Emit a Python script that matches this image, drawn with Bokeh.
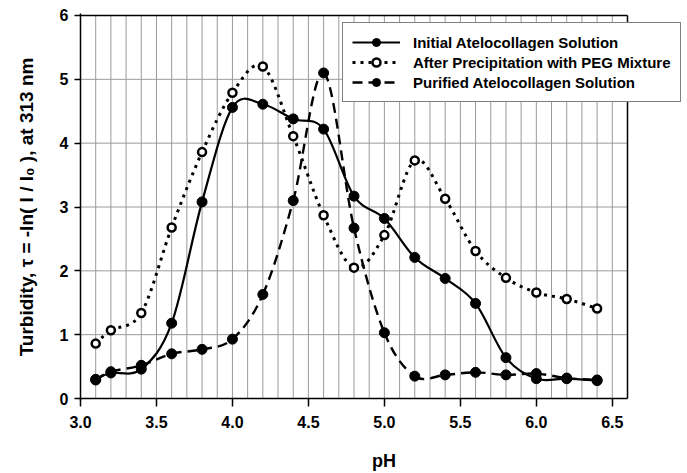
import numpy as np
from bokeh.plotting import figure
from bokeh.models import Legend, LegendItem, FixedTicker, ColumnDataSource
from bokeh.embed import file_html
from bokeh.resources import INLINE

# ---- data ----
ph = [3.1, 3.2, 3.4, 3.6, 3.8, 4.0, 4.2, 4.4, 4.6, 4.8, 5.0, 5.2, 5.4, 5.6, 5.8, 6.0, 6.2, 6.4]
initial = [0.30, 0.40, 0.46, 1.18, 3.08, 4.56, 4.61, 4.38, 4.22, 3.17, 2.82, 2.21, 1.88, 1.49, 0.64, 0.31, 0.31, 0.28]
peg = [0.86, 1.07, 1.34, 2.68, 3.86, 4.79, 5.20, 4.11, 2.87, 2.05, 2.56, 3.73, 3.13, 2.31, 1.89, 1.66, 1.56, 1.41]
purified = [0.29, 0.42, 0.52, 0.70, 0.77, 0.93, 1.63, 3.10, 5.10, 2.67, 1.03, 0.35, 0.37, 0.41, 0.37, 0.39, 0.32, 0.29]
series_names = ["Initial Atelocollagen Solution",
                "After Precipitation with PEG Mixture",
                "Purified Atelocollagen Solution"]
x_ticks = [3.0, 3.5, 4.0, 4.5, 5.0, 5.5, 6.0, 6.5]
y_ticks = [0, 1, 2, 3, 4, 5, 6]
X_MIN, X_MAX = 3.0, 6.6
Y_MIN, Y_MAX = 0.0, 6.0
X_GRID_STEP = 0.1

FONT = "Liberation Sans"

# ---- layout (pixels) ----
W, H = 687, 473
LEFT, TOP = 80, 13
PLOT_W = 547           # width of the x = 3.0 .. 6.6 area
PLOT_H = 384           # height of the y = 0 .. 6 area
PAD = 2                # extra pixels above/below so border lines are not clipped
FRAME_W = W - LEFT
FRAME_H = PLOT_H + 2 * PAD
px_x = PLOT_W / (X_MAX - X_MIN)
px_y = PLOT_H / (Y_MAX - Y_MIN)


def smooth_segments(xs, ys):
    """Bezier control points for a smoothed (Catmull-Rom style) line through the data."""
    P = np.column_stack([xs, ys]).astype(float)
    n = len(P)
    d = dict(x0=[], y0=[], x1=[], y1=[], cx0=[], cy0=[], cx1=[], cy1=[])
    for i in range(n - 1):
        p0 = P[i - 1] if i > 0 else P[i]
        p1 = P[i]
        p2 = P[i + 1]
        p3 = P[i + 2] if i + 2 < n else P[i + 1]
        c0 = p1 + (p2 - p0) / 6.0
        c1 = p2 - (p3 - p1) / 6.0
        d["x0"].append(p1[0]); d["y0"].append(p1[1])
        d["x1"].append(p2[0]); d["y1"].append(p2[1])
        d["cx0"].append(c0[0]); d["cy0"].append(c0[1])
        d["cx1"].append(c1[0]); d["cy1"].append(c1[1])
    return ColumnDataSource(d)


p = figure(width=W, height=H,
           x_range=(X_MIN, X_MIN + FRAME_W / px_x),
           y_range=(Y_MIN - PAD / px_y, Y_MAX + PAD / px_y),
           output_backend="svg", toolbar_location=None,
           min_border_left=LEFT, min_border_right=0, min_border_top=TOP,
           min_border_bottom=H - TOP - FRAME_H)

p.background_fill_color = "white"
p.border_fill_color = "white"
p.outline_line_color = None
p.xgrid.visible = False
p.ygrid.visible = False

# grid lines restricted to the plotting area
n_vx = int(round((X_MAX - X_MIN) / X_GRID_STEP))
vx = [round(X_MIN + X_GRID_STEP * i, 1) for i in range(1, n_vx)]
p.segment(x0=vx, y0=[Y_MIN] * len(vx), x1=vx, y1=[Y_MAX] * len(vx),
          line_color="#9a9a9a", line_width=1)
hy = [t for t in y_ticks if Y_MIN < t < Y_MAX]
p.segment(x0=[X_MIN] * len(hy), y0=hy, x1=[X_MAX] * len(hy), y1=hy,
          line_color="#9a9a9a", line_width=1)

# axes
p.xaxis.ticker = FixedTicker(ticks=x_ticks)
p.yaxis.ticker = FixedTicker(ticks=y_ticks)
for ax in (p.xaxis[0], p.yaxis[0]):
    ax.axis_line_color = "black"
    ax.axis_line_width = 1.5
    ax.major_tick_line_color = "black"
    ax.major_tick_line_width = 1.5
    ax.major_tick_out = 6
    ax.major_tick_in = 0
    ax.minor_tick_line_color = None
    ax.major_label_text_font = FONT
    ax.major_label_text_font_style = "bold"
    ax.major_label_text_font_size = "16px"
    ax.major_label_text_color = "black"
    ax.axis_label_text_font = FONT
    ax.axis_label_text_font_style = "bold"
    ax.axis_label_text_color = "black"

p.xaxis.axis_line_color = None
p.xaxis.major_tick_in = PAD
p.xaxis.major_label_overrides = {t: f"{t:.1f}" for t in x_ticks}
p.xaxis.major_label_standoff = 9
p.xaxis.axis_label = "pH"
p.xaxis.axis_label_standoff = 20
p.xaxis.axis_label_text_font_size = "18px"
p.yaxis.major_label_standoff = 6
p.yaxis.axis_label = "Turbidity, \u03c4 = -ln( I / I\u2080 ), at 313 nm"
p.yaxis.axis_label_standoff = 20
p.yaxis.axis_label_text_font_size = "19px"

# plot-area border (bottom, top, right)
p.segment(x0=[X_MIN, X_MIN, X_MAX], y0=[Y_MIN, Y_MAX, Y_MIN],
          x1=[X_MAX, X_MAX, X_MAX], y1=[Y_MIN, Y_MAX, Y_MAX],
          line_color="black", line_width=1.5)

# series
r_init_line = p.bezier(source=smooth_segments(ph, initial), x0="x0", y0="y0", x1="x1", y1="y1",
                       cx0="cx0", cy0="cy0", cx1="cx1", cy1="cy1",
                       line_color="black", line_width=2.2)
r_peg_line = p.bezier(source=smooth_segments(ph, peg), x0="x0", y0="y0", x1="x1", y1="y1",
                      cx0="cx0", cy0="cy0", cx1="cx1", cy1="cy1",
                      line_color="black", line_width=3, line_dash="3 5")
r_pur_line = p.bezier(source=smooth_segments(ph, purified), x0="x0", y0="y0", x1="x1", y1="y1",
                      cx0="cx0", cy0="cy0", cx1="cx1", cy1="cy1",
                      line_color="black", line_width=2.4, line_dash="10 6")

r_init_pts = p.scatter(ph, initial, marker="circle", size=10, fill_color="black", line_color="black")
r_peg_pts = p.scatter(ph, peg, marker="circle", size=8, fill_color="white", line_color="black", line_width=2.5)
r_pur_pts = p.scatter(ph, purified, marker="circle", size=10, fill_color="black", line_color="black")

legend = Legend(items=[
    LegendItem(label=series_names[0], renderers=[r_init_line, r_init_pts]),
    LegendItem(label=series_names[1], renderers=[r_peg_line, r_peg_pts]),
    LegendItem(label=series_names[2], renderers=[r_pur_line, r_pur_pts]),
], location=(262, 298))
legend.label_text_font = FONT
legend.label_text_font_style = "bold"
legend.label_text_font_size = "15px"
legend.label_text_color = "black"
legend.glyph_width = 48
legend.glyph_height = 20
legend.label_height = 20
legend.spacing = 0
legend.padding = 9
legend.margin = 0
legend.label_standoff = 13
legend.border_line_color = "black"
legend.border_line_width = 1.5
legend.background_fill_color = "white"
legend.background_fill_alpha = 1.0
p.add_layout(legend)

open("out.html", "w").write(file_html(p, INLINE))
